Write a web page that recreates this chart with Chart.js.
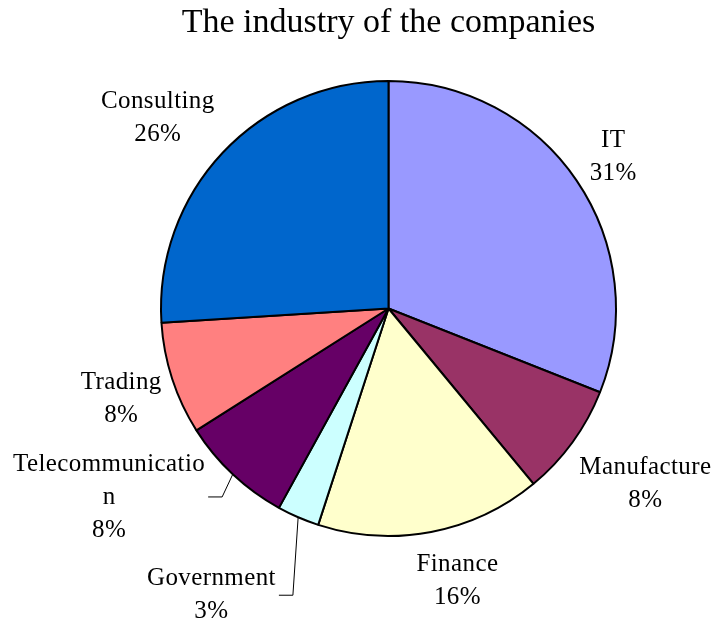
<!DOCTYPE html>
<html>
<head>
<meta charset="utf-8">
<script src="https://cdn.jsdelivr.net/npm/chart.js@4/dist/chart.umd.min.js"></script>
<style>
  html, body { margin: 0; padding: 0; background: #ffffff; }
  #wrap { width: 715px; height: 624px; }
</style>
</head>
<body>
<div id="wrap"><canvas id="chart" width="715" height="624"></canvas></div>
<script>
// Share of companies by industry (percent), clockwise from 12 o'clock
const industries = ['IT', 'Manufacture', 'Finance', 'Government', 'Telecommunication', 'Trading', 'Consulting'];
const shares = [31, 8, 16, 3, 8, 8, 26];
// Lines of each slice label (long names wrap the way the label box breaks them)
const labelLines = [
  ['IT', '31%'],
  ['Manufacture', '8%'],
  ['Finance', '16%'],
  ['Government', '3%'],
  ['Telecommunicatio', 'n', '8%'],
  ['Trading', '8%'],
  ['Consulting', '26%']
];

const sliceColors = ['#9999FF', '#993366', '#FFFFCC', '#CCFFFF', '#660066', '#FF8080', '#0066CC'];
// Label placement: distance of label centre from pie centre, angle nudge (deg), leader line flag
const labelPlacement = [
  { dist: 271, turn: 0.2, leader: false },
  { dist: 311, turn: -1.7, leader: false },
  { dist: 281, turn: -3.4, leader: false },
  { dist: 337, turn: 8.3, leader: true },
  { dist: 337, turn: 12.8, leader: true },
  { dist: 282, turn: -0.6, leader: false },
  { dist: 299, turn: -3.7, leader: false }
];

const SERIF = '"Liberation Serif", "Times New Roman", serif';
const LABEL_SIZE = 25;
const LINE_GAP = 33;

const sliceLabels = {
  id: 'sliceLabels',
  afterDatasetsDraw(chart) {
    const ctx = chart.ctx;
    const meta = chart.getDatasetMeta(0);
    ctx.save();
    ctx.font = LABEL_SIZE + 'px ' + SERIF;
    ctx.letterSpacing = '0.4px';
    ctx.fillStyle = '#000000';
    ctx.textAlign = 'center';
    ctx.textBaseline = 'middle';
    meta.data.forEach((arc, i) => {
      const p = arc.getProps(['x', 'y', 'startAngle', 'endAngle', 'outerRadius'], true);
      const mid = (p.startAngle + p.endAngle) / 2;
      const place = labelPlacement[i];
      const a = mid + place.turn * Math.PI / 180;
      const cx = p.x + Math.cos(a) * place.dist;
      const cy = p.y + Math.sin(a) * place.dist;
      const lines = labelLines[i];
      const top = cy - (lines.length - 1) * LINE_GAP / 2;
      let maxW = 0;
      lines.forEach((t, k) => {
        ctx.fillText(t, cx, top + k * LINE_GAP);
        maxW = Math.max(maxW, ctx.measureText(t).width);
      });
      if (place.leader) {
        const ex = p.x + Math.cos(mid) * p.outerRadius;
        const ey = p.y + Math.sin(mid) * p.outerRadius;
        const right = cx + maxW / 2;
        ctx.beginPath();
        ctx.strokeStyle = '#000000';
        ctx.lineWidth = 1;
        ctx.moveTo(right + 3, cy);
        ctx.lineTo(right + 17, cy);
        ctx.lineTo(ex, ey);
        ctx.stroke();
      }
    });
    ctx.restore();
  }
};

new Chart(document.getElementById('chart'), {
  type: 'pie',
  data: {
    labels: industries,
    datasets: [{
      data: shares,
      backgroundColor: sliceColors,
      borderColor: '#000000',
      borderWidth: 2
    }]
  },
  options: {
    responsive: false,
    animation: false,
    layout: { padding: { left: 160, right: 98, top: 0, bottom: 87 } },
    plugins: {
      legend: { display: false },
      tooltip: { enabled: false },
      title: {
        display: true,
        text: 'The industry of the companies',
        color: '#000000',
        font: { family: SERIF, size: 34, weight: 'normal' },
        padding: { top: 3, bottom: 36.2 }
      }
    }
  },
  plugins: [sliceLabels]
});
</script>
</body>
</html>
